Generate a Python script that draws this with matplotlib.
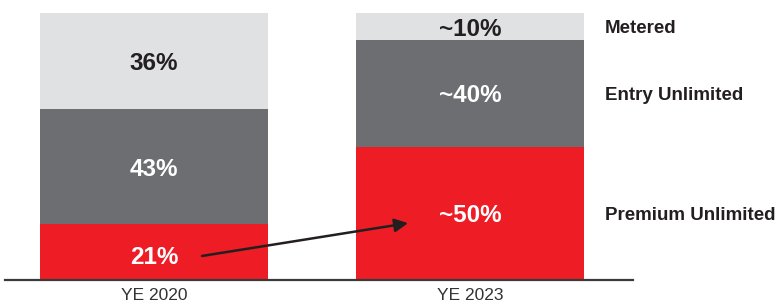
import matplotlib
matplotlib.use('Agg')
import matplotlib.pyplot as plt

plt.rcParams['font.family'] = ['Liberation Sans', 'DejaVu Sans']

# data
periods = ["YE 2020", "YE 2023"]
segments = ["Premium Unlimited", "Entry Unlimited", "Metered"]
premium = [21, 50]
entry = [43, 40]
metered = [36, 10]
labels_2020 = ["21%", "43%", "36%"]
labels_2023 = ["~50%", "~40%", "~10%"]

red = "#ee1c25"
gray = "#6d6e71"
light = "#e0e1e3"
dark = "#231f20"

fig = plt.figure(figsize=(7.8, 3.05), dpi=100)
ax = fig.add_axes([5 / 780, 25 / 305, 628 / 780, 267 / 305])

x = range(len(periods))
w = 0.7215
series = [premium, entry, metered]
colors = [red, gray, light]
text_colors = ["white", "white", dark]
bottoms = [0, 0]
for vals, c, tc, i in zip(series, colors, text_colors, range(3)):
    bars = ax.bar(x, vals, width=w, bottom=bottoms, color=c, linewidth=0)
    for j, b in enumerate(bars):
        lab = [labels_2020, labels_2023][j][i]
        dy = -2.2 if (i == 0 and j == 0) else -1.0
        ax.text(b.get_x() + b.get_width() / 2, bottoms[j] + vals[j] / 2 + dy, lab,
                ha="center", va="center", fontsize=17.5, fontweight="bold", color=tc)
    bottoms = [bo + v for bo, v in zip(bottoms, vals)]

# segment names on the right, aligned to the YE 2023 bar
bottoms = [0, 0]
for name, vals in zip(segments, series):
    ax.text(1.427, bottoms[1] + vals[1] / 2 - 0.9, name, ha="left", va="center",
            fontsize=13.5, fontweight="bold", color=dark, clip_on=False)
    bottoms = [bo + v for bo, v in zip(bottoms, vals)]

# arrow from 21% to ~50%
ax.annotate("", xy=(0.804, 21.3), xytext=(0.152, 9.0),
            arrowprops=dict(arrowstyle="-|>", color=dark, lw=1.8, mutation_scale=20,
                            shrinkA=0, shrinkB=0))

ax.set_xlim(-0.4715, 1.5158)
ax.set_ylim(0, 100)
ax.set_xticks(list(x))
ax.set_xticklabels(periods, fontsize=12.5, color="#333333")
ax.tick_params(axis="x", length=0, pad=6)
ax.set_yticks([])
for s in ["top", "right", "left"]:
    ax.spines[s].set_visible(False)
ax.spines["bottom"].set_color("#3a3a3a")
ax.spines["bottom"].set_linewidth(1.6)

plt.savefig("out.png", dpi=100)
